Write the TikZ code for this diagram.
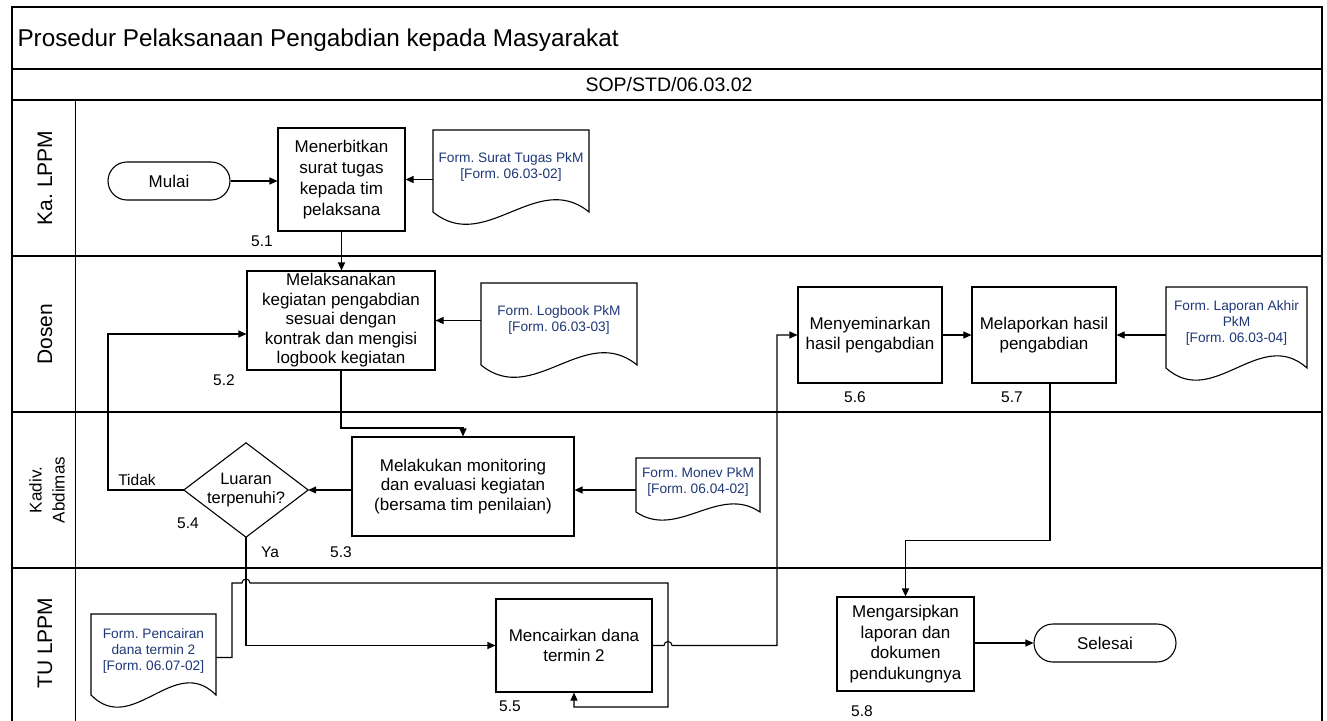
\documentclass[tikz,border=0pt]{standalone}
\usepackage{fontspec}
\setmainfont{Liberation Sans}
\usetikzlibrary{arrows.meta,calc}
\definecolor{docblue}{RGB}{31,56,120}
\frenchspacing
\newcommand\docnode[6]{%
  \pgfmathsetmacro\dwave{0.52*#5}%
  \draw[conn] (#2,#3) -- (#2+#4,#3) -- (#2+#4,#3+#5) .. controls (#2+#4*2/3,#3+#5-\dwave) and (#2+#4/3,#3+#5+\dwave) .. (#2,#3+#5) -- cycle;
  \node[doctext, minimum width=#4pt, inner sep=0pt] (#1) at (#2+#4/2,#3+0.45*#5) {#6};
}
\begin{document}
\frenchspacing
\begin{tikzpicture}[x=1pt,y=-1pt,
  frame/.style={line width=1.6pt},
  conn/.style={line width=1.1pt},
  arr/.style={conn,-{Triangle[length=8pt,width=7pt]}},
  proc/.style={draw,line width=1.1pt,align=center,font=\fontsize{17}{19.5}\selectfont,inner sep=2pt},
  term/.style={draw,line width=1.1pt,rounded corners=19pt,font=\fontsize{17}{19.5}\selectfont},
  doctext/.style={align=center,text=docblue,font=\fontsize{13.7}{16}\selectfont},
  num/.style={font=\fontsize{15.5}{18}\selectfont},
  lane/.style={rotate=90,align=center}
]
\useasboundingbox (0,0) rectangle (1327,720);
% frame
\draw[frame] (12,722) -- (12,7) -- (1322,7) -- (1322,722);
\draw[frame] (12,69) -- (1322,69);
\draw[frame] (12,100) -- (1322,100);
\draw[frame] (12,256) -- (1322,256);
\draw[frame] (12,412) -- (1322,412);
\draw[frame] (12,568) -- (1322,568);
\draw[line width=1pt] (75,100) -- (75,722);
\node[anchor=west,font=\fontsize{24.3}{28}\selectfont] (title) at (14,40) {Prosedur Pelaksanaan Pengabdian kepada Masyarakat};
\node[font=\fontsize{19.5}{22}\selectfont] (sop) at (669,85) {SOP/STD/06.03.02};
% lanes
\node[lane,font=\fontsize{21}{24}\selectfont] (l1) at (45,178) {Ka. LPPM};
\node[lane,font=\fontsize{21}{24}\selectfont] (l2) at (45,334) {Dosen};
\node[lane,font=\fontsize{17}{23}\selectfont] (l3) at (47,490) {Kadiv.\\Abdimas};
\node[lane,font=\fontsize{21}{24}\selectfont] (l4) at (45,643) {TU LPPM};
% nodes
\node[term, minimum width=122pt, minimum height=38pt] (mulai) at (169,181) {Mulai};
\node[proc, minimum width=127pt, minimum height=103pt, font=\fontsize{17}{21}\selectfont] (b1) at (341.5,179.5) {Menerbitkan\\surat tugas\\kepada tim\\pelaksana};
\docnode{d1}{433}{130}{156}{82}{Form. Surat Tugas PkM\\{}[Form. 06.03-02]}
\node[num] (n51) at (262,241) {5.1};
\node[proc, minimum width=188pt, minimum height=99pt] (b2) at (341,320.5) {Melaksanakan\\kegiatan pengabdian\\sesuai dengan\\kontrak dan mengisi\\logbook kegiatan};
\docnode{d2}{481}{283}{156}{82}{Form. Logbook PkM\\{}[Form. 06.03-03]}
\node[num] (n52) at (224,380) {5.2};
\node[proc, minimum width=144pt, minimum height=96pt] (b6) at (870,335) {Menyeminarkan\\hasil pengabdian};
\node[proc, minimum width=144pt, minimum height=96pt] (b7) at (1044,335) {Melaporkan hasil\\pengabdian};
\docnode{d3}{1166}{287}{141}{81}{Form. Laporan Akhir\\PkM\\{}[Form. 06.03-04]}
\node[num] (n56) at (855,397) {5.6};
\node[num] (n57) at (1012,397) {5.7};
\node[proc, minimum width=222pt, minimum height=99pt] (b3) at (463,486.5) {Melakukan monitoring\\dan evaluasi kegiatan\\(bersama tim penilaian)};
\docnode{d4}{636}{458}{124}{54}{Form. Monev PkM\\{}[Form. 06.04-02]}
\node[minimum width=124pt, minimum height=94pt, inner sep=0pt, align=center, font=\fontsize{16.5}{19}\selectfont] (b4) at (246,490) {Luaran\\terpenuhi?};
\draw[conn] (b4.west) -- (b4.north) -- (b4.east) -- (b4.south) -- cycle;
\node[num] (tidak) at (137,480) {Tidak};
\node[num] (n54) at (188,523) {5.4};
\node[num] (ya) at (270,552) {Ya};
\node[num] (n53) at (341,552) {5.3};
\node[proc, minimum width=156pt, minimum height=93pt] (b5) at (574,645.5) {Mencairkan dana\\termin 2};
\node[num] (n55) at (510,706) {5.5};
\docnode{d5}{91}{614}{125}{81}{Form. Pencairan\\dana termin 2\\{}[Form. 06.07-02]}
\node[proc, minimum width=137pt, minimum height=94pt, font=\fontsize{17}{20.5}\selectfont] (b8) at (905.5,644) {Mengarsipkan\\laporan dan\\dokumen\\pendukungnya};
\node[num] (n58) at (862,711) {5.8};
\node[term, minimum width=142pt, minimum height=38pt] (selesai) at (1105,643) {Selesai};
% helper coordinates
\coordinate (c1) at (0,428);
\coordinate (c2) at (108,0);
\coordinate (lp1) at (232,0);
\coordinate (h1a) at (242,583);
\coordinate (h1b) at (250,583);
\coordinate (lp2) at (668,707);
\coordinate (x664) at (664,0);
\coordinate (x672) at (672,0);
\coordinate (x777) at (777,0);
% connectors
\draw[arr] (mulai.east) -- (mulai.east -| b1.west);
\draw[arr] (d1.west |- b1.east) -- (b1.east);
\draw[arr] (b1.south) -- (b1.south |- b2.north);
\draw[arr] (d2.west |- b2.east) -- (b2.east);
\draw[arr] (b2.south) -- (b2.south |- c1) -| (b3.north);
\draw[arr] (d4.west |- b4.east) -- (b3.east |- b4.east);
\draw[arr] (b3.west |- b4.east) -- (b4.east);
\draw[arr] (b4.west) -- (b4.west -| c2) |- ([yshift=-13.5pt]b2.west);
\draw[arr] (b4.south) |- (b5.west);
\draw[arr] ([yshift=-7pt]d5.east) -| (lp1 |- h1a) -- (h1a) .. controls +(0,-5.3) and +(0,-5.3) .. (h1b) -| (lp2) -| (b5.south);
\draw[arr] (b5.east) -- (b5.east -| x664) .. controls +(0,-5.3) and +(0,-5.3) .. (b5.east -| x672) -| (b6.west -| x777) -- (b6.west);
\draw[arr] (b6.east) -- (b7.west);
\draw[arr] (d3.west |- b7.east) -- (b7.east);
\draw[arr] ([xshift=6pt]b7.south) -- ++(0,157) -| (b8.north);
\draw[arr] (b8.east |- selesai.west) -- (selesai.west);
\end{tikzpicture}
\end{document}
